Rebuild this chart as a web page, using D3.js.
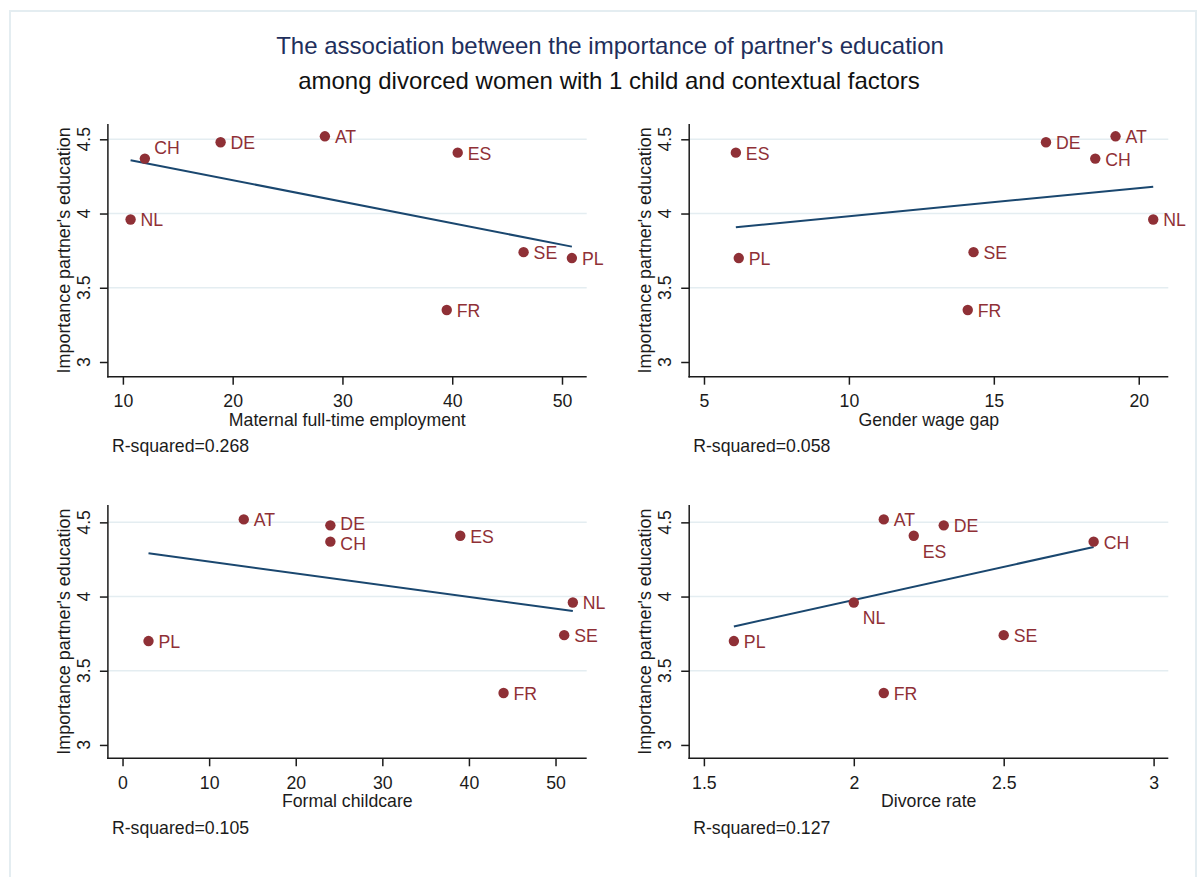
<!DOCTYPE html>
<html>
<head>
<meta charset="utf-8">
<script src="https://cdn.jsdelivr.net/npm/d3@7"></script>
<style>
  html, body { margin: 0; padding: 0; background: #fff; }
  svg text { font-family: "Liberation Sans", Arial, sans-serif; }
</style>
</head>
<body>
<svg id="chart" width="1197" height="877"></svg>
<script>
// Country codes and the outcome shared by all four panels
const countries = ["AT", "DE", "ES", "CH", "NL", "SE", "PL", "FR"];
const importance = [4.52, 4.48, 4.41, 4.37, 3.96, 3.74, 3.70, 3.35];

// Contextual factors, one per panel (same country order)
const maternalFullTime = [28.4, 18.9, 40.5, 12.0, 10.7, 46.5, 50.9, 39.5];
const genderWageGap    = [19.2, 16.8, 6.1, 18.5, 20.5, 14.3, 6.2, 14.1];
const formalChildcare  = [14, 24, 39, 24, 52, 51, 3, 44];
const divorceRate      = [2.1, 2.3, 2.2, 2.8, 2.0, 2.5, 1.6, 2.1];

// Axis ticks
const yTicks = [3, 3.5, 4, 4.5];
const yTickLabels = ["3", "3.5", "4", "4.5"];
const maternalTicks = [10, 20, 30, 40, 50];
const wageGapTicks = [5, 10, 15, 20];
const childcareTicks = [0, 10, 20, 30, 40, 50];
const divorceTicks = [1.5, 2, 2.5, 3];

// Text
const titleLines = ["The association between the importance of partner's education",
                    "among divorced women with 1 child and contextual factors"];
const yTitle = "Importance partner's education";
const xTitles = ["Maternal full-time employment", "Gender wage gap", "Formal childcare", "Divorce rate"];
const rSquaredLabels = ["R-squared=0.268", "R-squared=0.058", "R-squared=0.105", "R-squared=0.127"];

// ---- layout and styling ----
const MAROON = "#8f3036";
const NAVY = "#1a476f";
const GRID = "#e4edf1";
const INK = "#1b1b1b";
const FS = 17.7;

// clock-style label placement per panel (default is 3 o'clock)
const labelClock = [{ CH: 1 }, {}, { DE: "3up", CH: "3down" }, { ES: 5, NL: 5 }];

const panels = [
  { x: maternalFullTime, ticks: maternalTicks,  xDom: [8.634, 52.25], left: 107.9, right: 586.7,  top: 124, bottom: 376.7, yDom: [2.901, 4.603] },
  { x: genderWageGap,    ticks: wageGapTicks,   xDom: [4.49, 21.02],  left: 689.2, right: 1168.3, top: 124, bottom: 376.7, yDom: [2.901, 4.603] },
  { x: formalChildcare,  ticks: childcareTicks, xDom: [-1.69, 53.6],  left: 107.9, right: 586.7,  top: 505, bottom: 758.3, yDom: [2.91, 4.617] },
  { x: divorceRate,      ticks: divorceTicks,   xDom: [1.451, 3.049], left: 689.2, right: 1168.3, top: 505, bottom: 758.3, yDom: [2.91, 4.617] }
];

const svg = d3.select("#chart");

// outer graph-region frame
svg.append("rect")
  .attr("x", 10).attr("y", 11).attr("width", 1186).attr("height", 900)
  .attr("fill", "none").attr("stroke", GRID).attr("stroke-width", 2);

// title
svg.append("text").attr("x", 610).attr("y", 54).attr("text-anchor", "middle")
  .attr("font-size", 24).attr("fill", "#1f2f5c").text(titleLines[0]);
svg.append("text").attr("x", 609).attr("y", 89).attr("text-anchor", "middle")
  .attr("font-size", 24).attr("fill", "#111").text(titleLines[1]);

// ordinary least squares fit
function olsFit(xs, ys) {
  const mx = d3.mean(xs), my = d3.mean(ys);
  let sxy = 0, sxx = 0;
  xs.forEach((v, i) => { sxy += (v - mx) * (ys[i] - my); sxx += (v - mx) * (v - mx); });
  const b = sxy / sxx;
  return v => my + b * (v - mx);
}

const clockOffset = {
  3: { dx: 10, dy: 1 },
  "3up": { dx: 10, dy: -1.5 },
  "3down": { dx: 10, dy: 2.5 },
  1: { dx: 9.5, dy: -11 },
  5: { dx: 9, dy: 16 }
};

panels.forEach((p, pi) => {
  const xs = d3.scaleLinear().domain(p.xDom).range([p.left, p.right]);
  const ys = d3.scaleLinear().domain(p.yDom).range([p.bottom, p.top]);
  const g = svg.append("g");

  // horizontal grid lines
  g.selectAll(".grid").data(yTicks.filter(t => t > yTicks[0])).enter().append("line")
    .attr("x1", p.left).attr("x2", p.right)
    .attr("y1", d => ys(d)).attr("y2", d => ys(d))
    .attr("stroke", GRID).attr("stroke-width", 1.5);

  // y axis
  const yAxis = g.append("g").attr("transform", `translate(${p.left},0)`)
    .call(d3.axisLeft(ys).tickValues(yTicks).tickSize(8).tickFormat(""));
  yAxis.select(".domain").remove();
  yAxis.selectAll(".tick line").attr("stroke", INK).attr("stroke-width", 1.5);
  g.append("line").attr("x1", p.left).attr("x2", p.left).attr("y1", p.top).attr("y2", p.bottom + 0.75)
    .attr("stroke", INK).attr("stroke-width", 1.5);
  g.selectAll(".ytl").data(yTicks).enter().append("text")
    .attr("transform", (d) => `translate(${p.left - 17.8},${ys(d)}) rotate(-90)`)
    .attr("text-anchor", "middle").attr("font-size", FS).attr("fill", INK)
    .text((d, i) => yTickLabels[i]);

  // x axis
  const xAxis = g.append("g").attr("transform", `translate(0,${p.bottom})`)
    .call(d3.axisBottom(xs).tickValues(p.ticks).tickSize(8).tickFormat(d3.format("")));
  xAxis.select(".domain").remove();
  xAxis.selectAll(".tick line").attr("stroke", INK).attr("stroke-width", 1.5);
  xAxis.selectAll(".tick text").attr("font-size", FS).attr("fill", INK)
    .attr("font-family", "Liberation Sans, Arial, sans-serif")
    .attr("dy", null).attr("y", 30.5).attr("dominant-baseline", "auto");
  g.append("line").attr("x1", p.left - 0.75).attr("x2", p.right).attr("y1", p.bottom).attr("y2", p.bottom)
    .attr("stroke", INK).attr("stroke-width", 1.5);

  // axis titles
  g.append("text")
    .attr("transform", `translate(${p.left - 38},${(p.top + p.bottom) / 2}) rotate(-90)`)
    .attr("text-anchor", "middle").attr("font-size", 17.9).attr("fill", INK).text(yTitle);
  g.append("text").attr("x", (p.left + p.right) / 2).attr("y", p.bottom + 49)
    .attr("text-anchor", "middle").attr("font-size", FS).attr("fill", INK).text(xTitles[pi]);
  g.append("text").attr("x", p.left + 4).attr("y", p.bottom + 75.5)
    .attr("font-size", FS).attr("fill", INK).text(rSquaredLabels[pi]);

  // fitted line across the observed range
  const fit = olsFit(p.x, importance);
  const [xmin, xmax] = d3.extent(p.x);
  g.append("path")
    .attr("d", d3.line().x(d => xs(d)).y(d => ys(fit(d)))([xmin, xmax]))
    .attr("fill", "none").attr("stroke", NAVY).attr("stroke-width", 2);

  // country points and labels
  const pts = countries.map((c, i) => ({ c, x: p.x[i], y: importance[i] }));
  g.selectAll(".pt").data(pts).enter().append("circle")
    .attr("cx", d => xs(d.x)).attr("cy", d => ys(d.y)).attr("r", 5.2)
    .attr("fill", MAROON);
  g.selectAll(".lbl").data(pts).enter().append("text")
    .attr("x", d => xs(d.x) + clockOffset[labelClock[pi][d.c] || 3].dx)
    .attr("y", d => ys(d.y) + clockOffset[labelClock[pi][d.c] || 3].dy)
    .attr("dominant-baseline", "central")
    .attr("font-size", FS).attr("fill", MAROON).text(d => d.c);
});
</script>
</body>
</html>
